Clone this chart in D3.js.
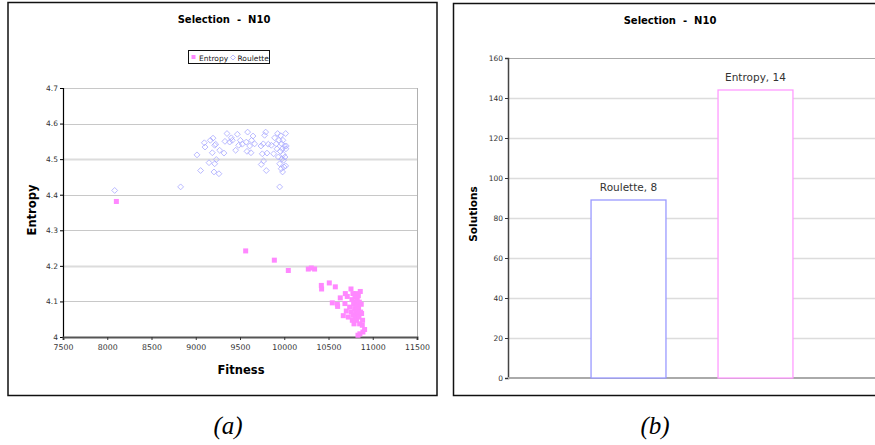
<!DOCTYPE html>
<html>
<head>
<meta charset="utf-8">
<script src="https://cdn.jsdelivr.net/npm/d3@7"></script>
<style>
  html, body { margin: 0; padding: 0; background: #fff; }
  svg { display: block; font-family: "DejaVu Sans", Arial, sans-serif; }
  .caption { font-family: "Liberation Serif", "Times New Roman", serif; font-style: italic; }
  .title { white-space: pre; }
</style>
</head>
<body>
<script>
// ---- Panel (a): fitness vs entropy for the two selection schemes ----
const rouletteFitness = [8084, 8829, 9014, 9055, 9097, 9105, 9150, 9165, 9187, 9195, 9206, 9214, 9214, 9225, 9232, 9262, 9270, 9319, 9330, 9353, 9383, 9402, 9413, 9451, 9470, 9485, 9504, 9526, 9571, 9579, 9586, 9609, 9624, 9631, 9647, 9665, 9737, 9740, 9752, 9763, 9767, 9778, 9790, 9797, 9805, 9820, 9854, 9880, 9891, 9910, 9918, 9925, 9933, 9940, 9948, 9948, 9955, 9959, 9966, 9970, 9974, 9978, 9981, 9985, 9989, 9993, 9997, 10004, 10008, 10016, 10016, 10019, 10023];
const rouletteEntropy = [4.412, 4.422, 4.512, 4.468, 4.546, 4.534, 4.490, 4.553, 4.518, 4.559, 4.464, 4.487, 4.539, 4.542, 4.499, 4.459, 4.525, 4.517, 4.550, 4.572, 4.548, 4.560, 4.553, 4.525, 4.570, 4.539, 4.553, 4.542, 4.548, 4.522, 4.576, 4.537, 4.518, 4.553, 4.565, 4.543, 4.537, 4.485, 4.515, 4.543, 4.495, 4.567, 4.576, 4.468, 4.517, 4.542, 4.539, 4.515, 4.560, 4.543, 4.529, 4.572, 4.506, 4.553, 4.487, 4.422, 4.522, 4.566, 4.473, 4.543, 4.501, 4.529, 4.464, 4.553, 4.513, 4.497, 4.478, 4.537, 4.506, 4.572, 4.481, 4.529, 4.537];

const entropyFitness = [8103, 9564, 9888, 10046, 10272, 10306, 10343, 10419, 10422, 10509, 10577, 10543, 10600, 10603, 10633, 10667, 10690, 10686, 10701, 10712, 10724, 10739, 10754, 10758, 10765, 10769, 10776, 10780, 10784, 10788, 10795, 10799, 10803, 10806, 10810, 10814, 10818, 10821, 10825, 10829, 10833, 10837, 10840, 10844, 10848, 10852, 10855, 10863, 10870, 10874, 10882, 10889, 10908, 10885, 10859];
const entropyEntropy = [4.381, 4.242, 4.216, 4.187, 4.191, 4.194, 4.191, 4.145, 4.135, 4.152, 4.141, 4.096, 4.092, 4.086, 4.110, 4.060, 4.122, 4.094, 4.073, 4.114, 4.056, 4.084, 4.135, 4.070, 4.105, 4.047, 4.122, 4.061, 4.094, 4.037, 4.080, 4.112, 4.056, 4.098, 4.070, 4.122, 4.047, 4.088, 4.105, 4.066, 4.005, 4.116, 4.080, 4.056, 4.098, 4.037, 4.009, 4.070, 4.092, 4.066, 4.033, 4.014, 4.021, 4.047, 4.128];

const fitnessTicks = [7500, 8000, 8500, 9000, 9500, 10000, 10500, 11000, 11500];
const entropyTicks = [4, 4.1, 4.2, 4.3, 4.4, 4.5, 4.6, 4.7];

// ---- Panel (b): number of solutions per selection scheme ----
const schemes = ["Roulette", "Entropy"];
const solutionCounts = [89, 144];
const labelNumbers = [8, 14];
const solutionTicks = [0, 20, 40, 60, 80, 100, 120, 140, 160];

const colors = { Roulette: "#a8a8ff", Entropy: "#ff88ff" };
const barStroke = { Roulette: "#9a9aff", Entropy: "#ff9cff" };

const W = 875, H = 445;
const svg = d3.select("body").append("svg").attr("width", W).attr("height", H);

// ================= Panel (a) =================
const A = { left: 63, right: 417, top: 88, bottom: 337 };
const xA = d3.scaleLinear().domain([7500, 11500]).range([A.left, A.right]);
const yA = d3.scaleLinear().domain([4, 4.7]).range([A.bottom, A.top]);

svg.append("rect").attr("x", 8).attr("y", 2.5).attr("width", 429).attr("height", 393)
  .attr("fill", "none").attr("stroke", "#111").attr("stroke-width", 1.5);

svg.append("text").attr("class", "title").attr("x", 224).attr("y", 23).attr("text-anchor", "middle")
  .attr("font-size", 10).attr("font-weight", "bold").text("Selection  -  N10");

// gridlines
const heavy = d => Math.abs(d - 4.5) < 1e-9 || Math.abs(d - 4.2) < 1e-9;
const gA = svg.append("g");
gA.selectAll("line.grid").data(entropyTicks.filter(d => d > 4)).join("line")
  .attr("x1", A.left).attr("x2", A.right)
  .attr("y1", d => Math.round(yA(d)) + 0.5).attr("y2", d => Math.round(yA(d)) + 0.5)
  .attr("stroke", d => heavy(d) ? "#dcdcdc" : "#c8c8c8")
  .attr("stroke-width", d => heavy(d) ? 2 : 1);
// right edge of plot area
gA.append("line").attr("x1", A.right + 0.5).attr("x2", A.right + 0.5)
  .attr("y1", A.top).attr("y2", A.bottom).attr("stroke", "#b0b0b0").attr("stroke-width", 1);

// axes
const yAxisA = d3.axisLeft(yA).tickValues(entropyTicks).tickSize(3).tickFormat(d3.format("~g"));
svg.append("g").attr("transform", `translate(${A.left},0)`).call(yAxisA)
  .call(g => g.attr("font-family", null))
  .call(g => g.select(".domain").attr("stroke", "#000").attr("stroke-width", 1.2))
  .call(g => g.selectAll(".tick line").attr("stroke", "#000"))
  .call(g => g.selectAll(".tick text").attr("font-size", 7.5).attr("fill", "#333").attr("x", -5));

const xAxisA = d3.axisBottom(xA).tickValues(fitnessTicks).tickSize(3).tickFormat(d3.format("d"));
svg.append("g").attr("transform", `translate(0,${A.bottom})`).call(xAxisA)
  .call(g => g.attr("font-family", null))
  .call(g => g.select(".domain").attr("stroke", "#555").attr("stroke-width", 2))
  .call(g => g.selectAll(".tick line").attr("stroke", "#333"))
  .call(g => g.selectAll(".tick text").attr("font-size", 7.8).attr("fill", "#333").attr("y", 7));

svg.append("text").attr("x", 241).attr("y", 374).attr("text-anchor", "middle")
  .attr("font-size", 11.5).attr("font-weight", "bold").text("Fitness");
svg.append("text").attr("transform", "translate(36,210) rotate(-90)").attr("text-anchor", "middle")
  .attr("font-size", 11.5).attr("font-weight", "bold").text("Entropy");

// scatter marks
const diamond = d3.symbol().type(d3.symbolDiamond2).size(22);
const roulettePts = rouletteFitness.map((f, i) => ({ f, e: rouletteEntropy[i] }));
const entropyPts = entropyFitness.map((f, i) => ({ f, e: entropyEntropy[i] }));

svg.append("g").selectAll("path").data(roulettePts).join("path")
  .attr("d", diamond)
  .attr("transform", d => `translate(${xA(d.f)},${yA(d.e)})`)
  .attr("fill", "none").attr("stroke", colors.Roulette).attr("stroke-width", 0.8);

svg.append("g").selectAll("rect").data(entropyPts).join("rect")
  .attr("x", d => xA(d.f) - 2.5).attr("y", d => yA(d.e) - 2.5)
  .attr("width", 5).attr("height", 5).attr("fill", colors.Entropy);

// legend
const leg = svg.append("g");
leg.append("rect").attr("x", 188.5).attr("y", 50.5).attr("width", 81).attr("height", 13)
  .attr("fill", "#fff").attr("stroke", "#111").attr("stroke-width", 1);
leg.append("rect").attr("x", 191.5).attr("y", 55).attr("width", 4).attr("height", 4).attr("fill", colors.Entropy);
leg.append("text").attr("x", 199).attr("y", 60.5).attr("font-size", 7.5).attr("fill", "#222").text("Entropy");
leg.append("path").attr("d", d3.symbol().type(d3.symbolDiamond2).size(16))
  .attr("transform", "translate(233,57.5)").attr("fill", "none").attr("stroke", colors.Roulette).attr("stroke-width", 0.8);
leg.append("text").attr("x", 237.5).attr("y", 60.5).attr("font-size", 7.5).attr("fill", "#222").text("Roulette");

svg.append("text").attr("class", "caption").attr("x", 228).attr("y", 434).attr("text-anchor", "middle")
  .attr("font-size", 25).text("(a)");

// ================= Panel (b) =================
const B = { left: 508, right: 876, top: 58, bottom: 378 };
const xB = d3.scaleBand().domain(schemes).range([B.left, B.right]).paddingInner(0.41).paddingOuter(0.654);
const yB = d3.scaleLinear().domain([0, 160]).range([B.bottom, B.top]);

svg.append("rect").attr("x", 453.5).attr("y", 3.5).attr("width", 440).attr("height", 392)
  .attr("fill", "none").attr("stroke", "#111").attr("stroke-width", 1.5);

svg.append("text").attr("class", "title").attr("x", 670).attr("y", 24).attr("text-anchor", "middle")
  .attr("font-size", 10).attr("font-weight", "bold").text("Selection  -  N10");

svg.append("g").selectAll("line").data(solutionTicks.filter(d => d > 0)).join("line")
  .attr("x1", B.left).attr("x2", B.right)
  .attr("y1", d => Math.round(yB(d)) + 0.5).attr("y2", d => Math.round(yB(d)) + 0.5)
  .attr("stroke", d => d === 160 ? "#aaa" : "#dcdcdc").attr("stroke-width", d => d === 160 ? 1.2 : 1.5);

const yAxisB = d3.axisLeft(yB).tickValues(solutionTicks).tickSize(3);
svg.append("g").attr("transform", `translate(${B.left},0)`).call(yAxisB)
  .call(g => g.attr("font-family", null))
  .call(g => g.select(".domain").attr("stroke", "#444").attr("stroke-width", 1.5))
  .call(g => g.selectAll(".tick line").attr("stroke", "#333"))
  .call(g => g.selectAll(".tick text").attr("font-size", 7.5).attr("fill", "#333").attr("x", -5));

svg.append("line").attr("x1", B.left).attr("x2", B.right).attr("y1", B.bottom).attr("y2", B.bottom)
  .attr("stroke", "#aaa").attr("stroke-width", 2);

svg.append("text").attr("transform", "translate(477,214) rotate(-90)").attr("text-anchor", "middle")
  .attr("font-size", 10.5).attr("font-weight", "bold").text("Solutions");

const bars = schemes.map((s, i) => ({ s, v: solutionCounts[i], n: labelNumbers[i] }));
svg.append("g").selectAll("rect").data(bars).join("rect")
  .attr("x", d => xB(d.s)).attr("y", d => yB(d.v))
  .attr("width", xB.bandwidth()).attr("height", d => yB(0) - yB(d.v))
  .attr("fill", "#fff").attr("stroke", d => barStroke[d.s]).attr("stroke-width", 1.3);

svg.append("g").selectAll("text").data(bars).join("text")
  .attr("x", d => xB(d.s) + xB.bandwidth() / 2).attr("y", d => yB(d.v) - 9)
  .attr("text-anchor", "middle").attr("font-size", 10.5).attr("fill", "#333")
  .text(d => `${d.s}, ${d.n}`);

svg.append("text").attr("class", "caption").attr("x", 655).attr("y", 434).attr("text-anchor", "middle")
  .attr("font-size", 25).text("(b)");
</script>
</body>
</html>
